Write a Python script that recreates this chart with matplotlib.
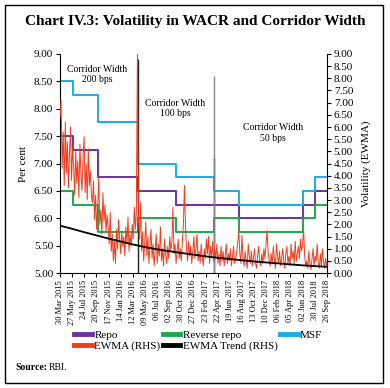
import numpy as np
import pandas as pd
import matplotlib
matplotlib.use("Agg")
import matplotlib.pyplot as plt
import matplotlib.dates as mdates
from matplotlib.patches import Rectangle

plt.rcParams["font.family"] = ["Liberation Serif", "DejaVu Serif"]

# policy rate changes (step dates) and levels, per cent
rate_dates = pd.to_datetime([
    "2015-03-30", "2015-06-02", "2015-09-29", "2016-04-05", "2016-10-04",
    "2017-04-06", "2017-08-02", "2018-06-06", "2018-08-01", "2018-09-26",
])
repo = [7.50, 7.25, 6.75, 6.50, 6.25, 6.25, 6.00, 6.25, 6.50, 6.50]
reverse_repo = [6.50, 6.25, 5.75, 6.00, 5.75, 6.00, 5.75, 6.00, 6.25, 6.25]
msf = [8.50, 8.25, 7.75, 7.00, 6.75, 6.50, 6.25, 6.50, 6.75, 6.75]

# EWMA volatility (RHS), read roughly every 5 days
ewma_2015_q2 = [6.4, 7.1, 4.3, 5.8, 3.6, 6.2, 4.1, 5.4, 3.5, 4.9, 6.0, 3.8, 5.2]
ewma_2015_q3 = [4.4, 3.2, 5.0, 3.7, 4.6, 3.1, 5.3, 4.0, 3.4, 4.8, 5.6, 3.3,
                4.5, 3.0, 5.1, 3.6, 4.2, 3.2]
ewma_2015_q4 = [2.9, 3.8, 2.2, 3.2, 1.8, 2.7, 3.9, 2.0, 2.6, 1.6, 3.3, 2.1,
                2.8, 1.7, 2.4]
ewma_2016_q1 = [1.9, 1.2, 2.5, 0.9, 1.6, 0.5, 1.3, 0.4, 1.8, 1.0, 2.2, 1.4,
                0.8, 1.7, 1.1, 1.5, 0.7, 1.9, 1.2, 2.3, 0.9, 1.6, 1.1, 2.0,
                1.4, 2.7, 1.8, 2.5, 9.0]
ewma_2016_q2q3 = [2.2, 1.4, 2.9, 0.9, 1.7, 0.5, 1.3, 2.1, 0.7, 1.5, 0.4, 1.1,
                  1.8, 0.6, 1.2, 0.3, 0.9, 1.6, 0.4, 1.2, 0.7, 1.9, 0.5, 1.0,
                  0.3, 1.4, 0.8, 0.4, 1.1, 0.6, 1.5, 0.9, 1.3, 2.7]
ewma_2016_q4 = [0.8, 1.2, 0.4, 0.9, 1.4, 0.6, 1.0, 0.5, 1.3, 2.0, 3.6, 1.9,
                1.0, 0.5, 1.3, 0.7, 1.1, 0.4, 0.9, 1.5, 0.6, 1.0]
ewma_2017_q1 = [1.6, 0.5, 0.9, 0.4, 1.2, 0.7, 0.3, 1.0, 0.6, 1.4, 0.8, 1.5,
                0.4, 1.1, 0.7, 1.3, 0.5]
ewma_2017 = [1.0, 0.6, 1.2, 0.4, 0.8, 0.3, 1.1, 0.5, 0.9, 0.3, 0.7, 1.2,
             0.4, 0.8, 0.5, 1.0, 0.3, 0.7, 1.1, 0.4, 0.6, 0.9, 1.3, 1.7,
             0.8, 0.4, 1.55, 0.6, 0.3, 0.9, 0.5, 0.2, 1.2, 0.7, 0.4, 0.9,
             0.3, 0.6, 1.0, 0.4, 0.2, 0.7, 1.1, 0.5, 0.3, 0.8, 0.4, 1.0,
             0.6, 1.2, 1.75]
ewma_2018 = [0.9, 0.5, 0.3, 0.8, 0.4, 1.1, 0.6, 0.2, 1.2, 0.7, 0.4, 0.9,
             0.3, 0.6, 1.0, 0.5, 0.2, 0.8, 1.1, 0.4, 0.7, 0.3, 1.2, 0.6,
             0.9, 0.4, 1.3, 0.5, 0.8, 1.1, 0.6, 1.4, 0.9, 1.2, 1.8, 0.7,
             0.3, 0.5, 0.2, 0.9, 0.4, 0.15, 0.6, 1.0, 0.3, 0.7, 0.5, 1.2,
             0.4, 0.2, 0.8, 0.3, 1.0, 0.5, 0.2, 0.6, 0.3]
ewma = (ewma_2015_q2 + ewma_2015_q3 + ewma_2015_q4 + ewma_2016_q1
        + ewma_2016_q2q3 + ewma_2016_q4 + ewma_2017_q1 + ewma_2017 + ewma_2018)
ewma_dates = pd.date_range("2015-03-30", periods=len(ewma), freq="5D")

# x tick dates (every 58 days) and EWMA trend read at those dates
tick_dates = pd.date_range("2015-03-30", "2018-09-26", freq="58D")
trend = [1.95, 1.82, 1.68, 1.55, 1.42, 1.30, 1.18, 1.07, 0.98, 0.90, 0.83,
         0.76, 0.69, 0.63, 0.58, 0.53, 0.48, 0.44, 0.40, 0.36, 0.32, 0.29,
         0.26]

# corridor change markers
marker_dates = pd.to_datetime(["2016-04-05", "2017-04-06"])

c_repo = "#7030a0"
c_rev = "#1fa84a"
c_msf = "#17aee8"
c_ewma = "#f23c1e"

fig = plt.figure(figsize=(3.9, 3.88), dpi=100)
ax = fig.add_axes([0.154, 0.296, 0.684, 0.565])
ax2 = ax.twinx()

l_repo, = ax.plot(rate_dates, repo, drawstyle="steps-post", color=c_repo,
                  lw=1.4, label="Repo")
l_rev, = ax.plot(rate_dates, reverse_repo, drawstyle="steps-post",
                 color=c_rev, lw=1.4, label="Reverse repo")
l_msf, = ax.plot(rate_dates, msf, drawstyle="steps-post", color=c_msf,
                 lw=1.4, label="MSF")
ax.vlines(marker_dates[0], 5.0, 8.9, color="#222222", lw=1.0)
ax.vlines(marker_dates[1], 5.0, 7.1, color="#222222", lw=1.0)
ax2.vlines(marker_dates[1], 0.0, 8.1, color="#888888", lw=1.0, zorder=1)

l_ewma, = ax2.plot(ewma_dates, ewma, color=c_ewma, lw=0.7,
                   label="EWMA (RHS)")
l_trend, = ax2.plot(tick_dates, trend, color="black", lw=1.3,
                    label="EWMA Trend (RHS)")

ax.set_xlim(tick_dates[0], tick_dates[-1])
ax.set_ylim(5.0, 9.0)
ax2.set_ylim(0.0, 9.0)
ax.set_yticks(np.arange(5.0, 9.01, 0.5))
ax2.set_yticks(np.arange(0.0, 9.01, 0.5))
ax.yaxis.set_major_formatter(plt.FormatStrFormatter("%.2f"))
ax2.yaxis.set_major_formatter(plt.FormatStrFormatter("%.2f"))
ax.set_xticks(tick_dates)
ax.xaxis.set_major_formatter(mdates.DateFormatter("%d %b %Y"))
ax.tick_params(axis="x", labelrotation=90, labelsize=6, length=3, pad=2)
ax.tick_params(axis="y", labelsize=8, length=3, pad=2)
ax2.tick_params(axis="y", labelsize=8, length=3, pad=2)

for s in ["top", "right"]:
    ax.spines[s].set_visible(False)
for s in ["top", "left", "bottom"]:
    ax2.spines[s].set_visible(False)

ax.set_ylabel("Per cent", fontsize=8, labelpad=4)
ax2.set_ylabel("Volatility (EWMA)", fontsize=8, labelpad=6)

ax.text(pd.Timestamp("2015-09-25"), 8.62, "Corridor Width\n200 bps",
        ha="center", va="center", fontsize=7, linespacing=1.2)
ax.text(pd.Timestamp("2016-09-30"), 8.0, "Corridor Width\n100 bps",
        ha="center", va="center", fontsize=7, linespacing=1.2)
ax.text(pd.Timestamp("2018-01-11"), 7.56, "Corridor Width\n50 bps",
        ha="center", va="center", fontsize=7, linespacing=1.2)

fig.text(0.5, 0.945, "Chart IV.3: Volatility in WACR and Corridor Width",
         ha="center", va="center", fontsize=11, fontweight="bold")

leg = fig.legend(handles=[l_repo, l_ewma, l_rev, l_trend, l_msf], ncol=3,
                 loc="upper left", bbox_to_anchor=(0.165, 0.175),
                 bbox_transform=fig.transFigure, frameon=False, fontsize=8,
                 handlelength=1.6, handletextpad=0.2, columnspacing=0.2,
                 labelspacing=0.1)
for h in leg.legend_handles:
    h.set_linewidth(3.5)

fig.text(0.04, 0.052, "Source:", fontsize=7, fontweight="bold",
         ha="left", va="center")
fig.text(0.125, 0.052, "RBI.", fontsize=7, ha="left", va="center")

fig.add_artist(Rectangle((5 / 390, 5 / 388), 378 / 390, 378 / 388,
                         transform=fig.transFigure, fill=False,
                         edgecolor="black", lw=1.0))

fig.savefig("out.png", dpi=100)
